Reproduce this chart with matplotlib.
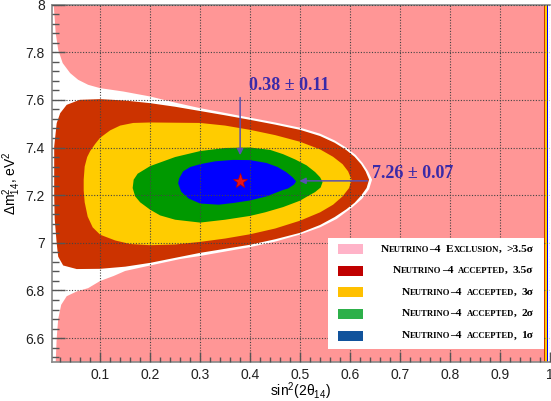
import matplotlib
matplotlib.use("Agg")
import matplotlib.pyplot as plt
from matplotlib.patches import Rectangle
from matplotlib.offsetbox import TextArea, HPacker, AnnotationBbox
from matplotlib.ticker import MultipleLocator, FormatStrFormatter

plt.rcParams['font.family'] = ['Liberation Sans', 'DejaVu Sans']
plt.rcParams['mathtext.default'] = 'regular'
SERIF = ['Liberation Serif', 'DejaVu Serif']

# ── contour boundaries (sin^2(2θ), Δm^2) ────────────────────────────────────
white_x = [0.003, 0.007, 0.011, 0.016, 0.025, 0.040, 0.056, 0.076, 0.100, 0.146,
           0.200, 0.253, 0.300, 0.350, 0.400, 0.450, 0.500, 0.540, 0.569, 0.592,
           0.611, 0.625, 0.636, 0.644, 0.638, 0.624, 0.605, 0.573, 0.540, 0.500,
           0.450, 0.400, 0.300, 0.260, 0.200, 0.150, 0.127, 0.100, 0.076, 0.053,
           0.033, 0.022, 0.016, 0.013, 0.011, 0.003]
white_y = [8.000, 8.000, 7.880, 7.810, 7.754, 7.712, 7.684, 7.663, 7.649, 7.635,
           7.614, 7.587, 7.565, 7.545, 7.525, 7.505, 7.483, 7.458, 7.430, 7.400,
           7.369, 7.335, 7.300, 7.265, 7.225, 7.185, 7.150, 7.100, 7.065, 7.035,
           7.005, 6.982, 6.945, 6.932, 6.905, 6.882, 6.861, 6.840, 6.810, 6.796,
           6.776, 6.740, 6.680, 6.600, 6.500, 6.500]

red_x = [0.008, 0.008, 0.013, 0.020, 0.033, 0.059, 0.100, 0.150, 0.200, 0.250,
         0.300, 0.350, 0.400, 0.450, 0.500, 0.540, 0.569, 0.592, 0.609, 0.622,
         0.631, 0.638, 0.633, 0.622, 0.609, 0.592, 0.569, 0.540, 0.500, 0.450,
         0.400, 0.350, 0.300, 0.250, 0.200, 0.150, 0.100, 0.053, 0.026, 0.016,
         0.013, 0.009, 0.008]
red_y = [7.300, 7.404, 7.502, 7.544, 7.579, 7.600, 7.603, 7.597, 7.586, 7.571,
         7.553, 7.535, 7.516, 7.496, 7.474, 7.448, 7.420, 7.390, 7.361, 7.330,
         7.300, 7.265, 7.230, 7.198, 7.168, 7.140, 7.108, 7.075, 7.042, 7.015,
         6.992, 6.975, 6.958, 6.937, 6.916, 6.900, 6.891, 6.890, 6.905, 6.942,
         6.998, 7.100, 7.200]

yellow_x = [0.067, 0.069, 0.074, 0.080, 0.090, 0.100, 0.120, 0.140, 0.166, 0.200,
            0.300, 0.350, 0.400, 0.450, 0.500, 0.540, 0.566, 0.585, 0.596, 0.603,
            0.598, 0.585, 0.566, 0.540, 0.500, 0.450, 0.400, 0.350, 0.300, 0.250,
            0.200, 0.160, 0.130, 0.100, 0.085, 0.075, 0.069, 0.067]
yellow_y = [7.265, 7.320, 7.360, 7.385, 7.415, 7.441, 7.472, 7.492, 7.503, 7.505,
            7.503, 7.492, 7.474, 7.452, 7.424, 7.392, 7.361, 7.330, 7.300, 7.265,
            7.230, 7.195, 7.160, 7.128, 7.093, 7.060, 7.036, 7.018, 7.004, 6.993,
            6.990, 6.995, 7.010, 7.034, 7.065, 7.110, 7.170, 7.220]

green_x = [0.165, 0.167, 0.175, 0.200, 0.250, 0.300, 0.350, 0.400, 0.440, 0.466,
           0.490, 0.513, 0.530, 0.540, 0.545, 0.541, 0.530, 0.513, 0.500, 0.466,
           0.430, 0.400, 0.350, 0.300, 0.250, 0.220, 0.200, 0.180, 0.170]
green_y = [7.230, 7.265, 7.290, 7.322, 7.360, 7.385, 7.398, 7.400, 7.390, 7.372,
           7.350, 7.325, 7.297, 7.275, 7.255, 7.232, 7.213, 7.193, 7.177, 7.150,
           7.128, 7.113, 7.097, 7.085, 7.097, 7.115, 7.139, 7.170, 7.195]

blue_x = [0.256, 0.258, 0.266, 0.280, 0.300, 0.330, 0.366, 0.400, 0.433, 0.455,
          0.472, 0.485, 0.492, 0.488, 0.476, 0.466, 0.433, 0.400, 0.366, 0.337,
          0.300, 0.277, 0.262]
blue_y = [7.250, 7.270, 7.300, 7.318, 7.330, 7.342, 7.348, 7.347, 7.335, 7.318,
          7.297, 7.275, 7.258, 7.245, 7.228, 7.222, 7.195, 7.178, 7.167, 7.160,
          7.165, 7.186, 7.215]

# thin contour strips hugging the right edge
edge_x = [0.9887, 0.9907, 0.9935, 0.9947, 0.9967, 1.0]
edge_colors = ['#cc3300', '#ffcc00', '#009900', '#0000ff', 'white']

best_x, err_x = 0.38, 0.11
best_y, err_y = 7.26, 0.07

legend_colors = ['#ffb3c8', '#c00000', '#ffc000', '#2db04a', '#11539c']
legend_words = [
    [[('N', 1), ('EUTRINO', 0), ('\u20134', 1)], [('E', 1), ('XCLUSION', 0), (',', 1)], [('>3.5\u03c3', 1)]],
    [[('N', 1), ('EUTRINO', 0), ('\u20134', 1)], [('ACCEPTED', 0), (',', 1)], [('3.5\u03c3', 1)]],
    [[('N', 1), ('EUTRINO', 0), ('\u20134', 1)], [('ACCEPTED', 0), (',', 1)], [('3\u03c3', 1)]],
    [[('N', 1), ('EUTRINO', 0), ('\u20134', 1)], [('ACCEPTED', 0), (',', 1)], [('2\u03c3', 1)]],
    [[('N', 1), ('EUTRINO', 0), ('\u20134', 1)], [('ACCEPTED', 0), (',', 1)], [('1\u03c3', 1)]],
]

W, H = 551, 401
fig = plt.figure(figsize=(W / 100, H / 100), dpi=100)
ax = fig.add_axes([51.7 / W, 39 / H, (550 - 51.7) / W, 357.5 / H])

ax.set_facecolor('#ff9696')
ax.fill(white_x, white_y, color='white', lw=0, zorder=0.5)
ax.fill(red_x, red_y, color='#cc3300', lw=0, zorder=0.6)
ax.fill(yellow_x, yellow_y, color='#ffcc00', lw=0, zorder=0.7)
ax.fill(green_x, green_y, color='#009900', lw=0, zorder=0.8)
ax.fill(blue_x, blue_y, color='#0000ff', lw=0, zorder=0.9)
for x0, x1, c in zip(edge_x[:-1], edge_x[1:], edge_colors):
    ax.axvspan(x0, x1, color=c, lw=0, zorder=0.9)

ax.plot([best_x], [best_y], marker='*', color='#e8141a', ms=11, mec='#c00000', mew=0.5, zorder=4)

arrow_c = '#5a52b0'
text_c = '#3b2aa8'
ax.annotate('', xy=(best_x, 7.356), xytext=(best_x, 7.621),
            arrowprops=dict(arrowstyle='-|>', color=arrow_c, lw=1.1, mutation_scale=9), zorder=4)
ax.annotate('', xy=(0.493, best_y), xytext=(0.64, best_y),
            arrowprops=dict(arrowstyle='-|>', color=arrow_c, lw=1.1, mutation_scale=9), zorder=4)
ax.text(0.478, 7.659, f'{best_x:.2f} \u00b1 {err_x:.2f}', ha='center', va='center',
        fontsize=13, fontweight='bold', family=SERIF, color=text_c, zorder=4)
ax.text(0.643, 7.293, f'{best_y:.2f} \u00b1 {err_y:.2f}', ha='left', va='center',
        fontsize=13, fontweight='bold', family=SERIF, color=text_c, zorder=4)

ax.set_xlim(0.003, 1.0)
ax.set_ylim(6.5, 8.0)
ax.xaxis.set_major_locator(MultipleLocator(0.1))
ax.xaxis.set_minor_locator(MultipleLocator(0.02))
ax.yaxis.set_major_locator(MultipleLocator(0.2))
ax.yaxis.set_minor_locator(MultipleLocator(0.04))
ax.xaxis.set_major_formatter(FormatStrFormatter('%g'))
ax.yaxis.set_major_formatter(FormatStrFormatter('%g'))
ax.tick_params(which='both', direction='in', color='#555555', labelsize=10, labelcolor='#222222')
ax.tick_params(axis='x', which='major', length=7.2, width=1.0, pad=4)
ax.tick_params(axis='x', which='minor', length=3.6, width=1.0)
ax.tick_params(axis='y', which='major', length=9.4, width=1.0, pad=5)
ax.tick_params(axis='y', which='minor', length=5.0, width=1.0)
ax.tick_params(top=False, right=False)
ax.grid(True, which='major', color='#444444', lw=0.8, ls=(0, (1, 1.5)), zorder=3)
ax.set_axisbelow(False)
for side in ('left', 'bottom', 'top'):
    ax.spines[side].set_color('#888888')
    ax.spines[side].set_linewidth(1.2)
ax.spines['right'].set_visible(False)

ax.set_xlabel(r'sin$^2$(2$\theta_{14}$)', fontsize=10, labelpad=-0.5)
ax.set_ylabel(r'$\Delta m^2_{14}$, eV$^2$', fontsize=10, labelpad=2)

# ── legend box with small-caps labels ──────────────────────────────────────
def fx(px):
    return px / W


def fy(py):
    return 1 - py / H


fig.add_artist(Rectangle((fx(328), fy(348.5)), fx(544) - fx(328), fy(238.3) - fy(348.5),
                         transform=fig.transFigure, facecolor='white', edgecolor='none', zorder=5))
row_py = [249, 270.5, 292.3, 313.7, 335.8]
for py, col, words in zip(row_py, legend_colors, legend_words):
    fig.add_artist(Rectangle((fx(338.3), fy(py + 5)), fx(363.3) - fx(338.3), 10 / H,
                             transform=fig.transFigure, facecolor=col, edgecolor='none', zorder=6))
    packed = []
    for word in words:
        areas = [TextArea(s, textprops=dict(fontsize=8.2 if big else 6.2, fontweight='bold',
                                             family=SERIF, color='black'))
                 for s, big in word]
        packed.append(HPacker(children=areas, align='baseline', pad=0, sep=0))
    row = HPacker(children=packed, align='baseline', pad=0, sep=3.5)
    ab = AnnotationBbox(row, (533.3, H - py), xycoords='figure pixels', box_alignment=(1, 0.5),
                        frameon=False, pad=0, zorder=7)
    fig.add_artist(ab)

fig.savefig('out.png', dpi=100)
